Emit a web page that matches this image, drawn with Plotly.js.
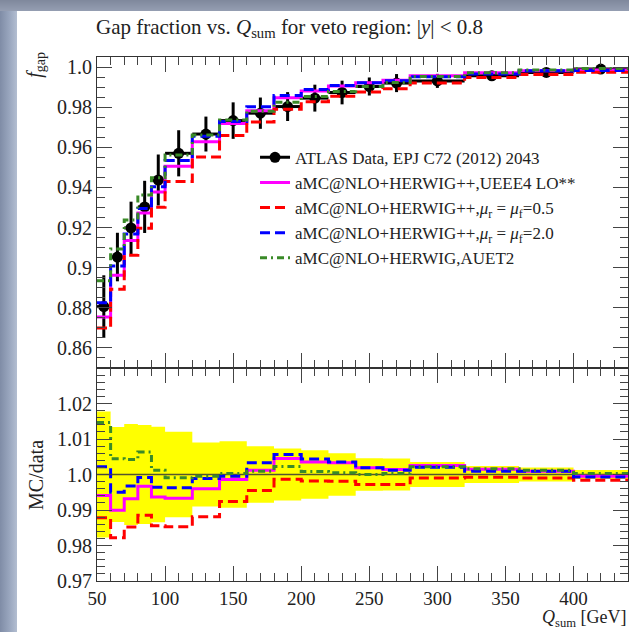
<!DOCTYPE html>
<html><head><meta charset="utf-8">
<script src="https://cdn.plot.ly/plotly-3.0.1.min.js"></script>
<style>
html,body{margin:0;padding:0;width:629px;height:632px;overflow:hidden;}
body{background:linear-gradient(to right,#7f8ca6 0px,#98a5bd 9px,#b3bed1 17px);}
#topstrip{position:absolute;left:0;top:0;width:629px;height:11px;background:linear-gradient(to bottom,#7f889c,#959eb2);}
#plot{position:absolute;left:17px;top:11px;width:612px;height:621px;background:#fff;}
</style></head><body><div id="topstrip"></div><div id="plot"></div>
<script>
// ---- data ----
const binEdges   = [50,60,70,80,90,100,120,140,160,180,200,220,240,260,280,320,360,400,440];
const binCenters = [55,65,75,85,95,110,130,150,170,190,210,230,250,270,300,340,380,420];
const dataValues = [0.8806,0.9053,0.9198,0.9303,0.9437,0.9570,0.9666,0.9733,0.9770,0.9803,0.9845,0.9873,0.9903,0.9920,0.9931,0.9956,0.9973,0.9990];
const dataErrors = [0.0156,0.0121,0.0131,0.0130,0.0127,0.0115,0.0087,0.0091,0.0078,0.0072,0.0067,0.0059,0.0045,0.0045,0.0035,0.0024,0.0020,0.0013];
const mcUEEE4 = [0.8754,0.8962,0.9135,0.9272,0.9377,0.9506,0.9627,0.9719,0.9782,0.9847,0.9880,0.9906,0.9922,0.9934,0.9956,0.9971,0.9982,0.9985];
const mcMu05  = [0.8699,0.8892,0.9062,0.9196,0.9301,0.9429,0.9551,0.9659,0.9726,0.9790,0.9827,0.9854,0.9875,0.9892,0.9921,0.9948,0.9963,0.9974];
const mcMu20  = [0.8825,0.9008,0.9168,0.9295,0.9403,0.9534,0.9655,0.9728,0.9802,0.9858,0.9888,0.9908,0.9922,0.9932,0.9951,0.9965,0.9982,0.9983];
const mcAUET2 = [0.8935,0.9093,0.9237,0.9362,0.9448,0.9561,0.9661,0.9736,0.9779,0.9825,0.9853,0.9878,0.9903,0.9923,0.9953,0.9972,0.9985,0.9993];

const seriesNames = [
  'ATLAS Data, EPJ C72 (2012) 2043',
  'aMC@NLO+HERWIG++,UEEE4 LO**',
  'aMC@NLO+HERWIG++,<i>μ</i><sub>r</sub> = <i>μ</i><sub>f</sub>=0.5',
  'aMC@NLO+HERWIG++,<i>μ</i><sub>r</sub> = <i>μ</i><sub>f</sub>=2.0',
  'aMC@NLO+HERWIG,AUET2'
];
const xTickVals = [50,100,150,200,250,300,350,400];
const xTickText = ['50','100','150','200','250','300','350','400'];
const yTickVals = [0.86,0.88,0.90,0.92,0.94,0.96,0.98,1.00];
const yTickText = ['0.86','0.88','0.9','0.92','0.94','0.96','0.98','1.0'];
const rTickVals = [0.97,0.98,0.99,1.00,1.01,1.02];
const rTickText = ['0.97','0.98','0.99','1.0','1.01','1.02'];

// ---- build traces ----
const FONT = 'Liberation Serif, Times New Roman, serif';
function stepY(vals){ return vals.concat([vals[vals.length-1]]); }
const halfWidths = binCenters.map((c,i)=> (binEdges[i+1]-binEdges[i])/2);

const mcList = [
  {v:mcUEEE4, line:{color:'#ff00ff', width:3}},
  {v:mcMu05,  line:{color:'#ff0000', width:3, dash:'10px,5px'}},
  {v:mcMu20,  line:{color:'#0000ff', width:3, dash:'10px,5px'}},
  {v:mcAUET2, line:{color:'#3a8a28', width:3, dash:'7px,4px,2px,4px'}}
];

const traces = [];
traces.push({x:[null], y:[null], type:'scatter', mode:'lines+markers', name:seriesNames[0],
  line:{color:'#000', width:3}, marker:{color:'#000', size:11}, xaxis:'x', yaxis:'y'});
traces.push({x:binCenters, y:dataValues, type:'scatter', mode:'markers', showlegend:false,
  marker:{color:'#000', size:11},
  error_y:{type:'data', array:dataErrors, color:'#000', thickness:3, width:0},
  error_x:{type:'data', array:halfWidths, color:'#000', thickness:3, width:0},
  xaxis:'x', yaxis:'y'});
mcList.forEach((m,i)=>{
  traces.push({x:binEdges, y:stepY(m.v), type:'scatter', mode:'lines', line:Object.assign({shape:'hv'}, m.line),
    name:seriesNames[i+1], xaxis:'x', yaxis:'y'});
});
const bandLo = dataValues.map((d,i)=> 1 - dataErrors[i]/d);
const bandHi = dataValues.map((d,i)=> 1 + dataErrors[i]/d);
traces.push({x:binEdges, y:stepY(bandLo), type:'scatter', mode:'lines', line:{shape:'hv', width:0, color:'#ffff00'},
  showlegend:false, xaxis:'x2', yaxis:'y2', hoverinfo:'skip'});
traces.push({x:binEdges, y:stepY(bandHi), type:'scatter', mode:'lines', line:{shape:'hv', width:0, color:'#ffff00'},
  fill:'tonexty', fillcolor:'#ffff00', showlegend:false, xaxis:'x2', yaxis:'y2', hoverinfo:'skip'});
traces.push({x:binEdges, y:stepY(dataValues.map(d=>d/d)), type:'scatter', mode:'lines',
  line:{shape:'hv', width:1.5, color:'#55552f'}, showlegend:false, xaxis:'x2', yaxis:'y2'});
mcList.forEach((m)=>{
  traces.push({x:binEdges, y:stepY(m.v.map((v,i)=> v/dataValues[i])), type:'scatter', mode:'lines',
    line:Object.assign({shape:'hv'}, m.line), showlegend:false, xaxis:'x2', yaxis:'y2'});
});

const split = 213/524;
const axisCommon = {ticks:'inside', ticklen:15, tickwidth:1, tickcolor:'#444', showline:true, linecolor:'#333',
  linewidth:1, mirror:'ticks', showgrid:false, zeroline:false,
  tickfont:{family:FONT, size:20, color:'#222'}};

const layout = {
  width:612, height:621,
  margin:{l:80, r:1, t:46, b:51},
  paper_bgcolor:'#ffffff', plot_bgcolor:'#ffffff',
  font:{family:FONT, size:18, color:'#222'},
  showlegend:true,
  legend:{x:0.2976, y:0.842, xanchor:'left', yanchor:'top', bgcolor:'rgba(0,0,0,0)', traceorder:'normal',
    font:{family:FONT, size:17, color:'#222'}, tracegroupgap:0},
  xaxis:Object.assign({}, axisCommon, {anchor:'y', range:[50,440], showticklabels:false,
    tickmode:'array', tickvals:xTickVals,
    minor:{ticks:'inside', ticklen:8, tick0:50, dtick:10, tickcolor:'#444', tickwidth:1}}),
  yaxis:Object.assign({}, axisCommon, {anchor:'x', domain:[split,1], range:[0.85,1.005],
    tickmode:'array', tickvals:yTickVals, ticktext:yTickText,
    minor:{ticks:'inside', ticklen:8, tick0:0.85, dtick:0.005, tickcolor:'#444', tickwidth:1}}),
  xaxis2:Object.assign({}, axisCommon, {anchor:'y2', range:[50,440],
    tickmode:'array', tickvals:xTickVals, ticktext:xTickText, ticklabelstandoff:0,
    tickfont:{family:FONT, size:19, color:'#222'},
    minor:{ticks:'inside', ticklen:8, tick0:50, dtick:10, tickcolor:'#444', tickwidth:1}}),
  yaxis2:Object.assign({}, axisCommon, {anchor:'x2', domain:[0,split], range:[0.97,1.03],
    tickmode:'array', tickvals:rTickVals, ticktext:rTickText,
    minor:{ticks:'inside', ticklen:8, tick0:0.97, dtick:0.002, tickcolor:'#444', tickwidth:1}}),
  annotations:[
    {text:'Gap fraction vs. <i>Q</i><sub>sum</sub> for veto region: |<i>y</i>| &lt; 0.8', xref:'paper', yref:'paper',
      x:-0.005, y:1, xanchor:'left', yanchor:'bottom', yshift:14, showarrow:false, font:{family:FONT, size:21, color:'#222'}},
    {text:'<i>f</i><sub>gap</sub>', textangle:-90, xref:'paper', yref:'paper', x:-0.1149, y:0.985,
      xanchor:'center', yanchor:'middle', showarrow:false, font:{family:FONT, size:20, color:'#222'}},
    {text:'MC/data', textangle:-90, xref:'paper', yref:'paper', x:-0.1149, y:0.2023,
      xanchor:'center', yanchor:'middle', showarrow:false, font:{family:FONT, size:20, color:'#222'}},
    {text:'<i>Q</i><sub>sum</sub> [GeV]', xref:'paper', yref:'paper', x:1, y:0, yshift:-51,
      xanchor:'right', yanchor:'bottom', showarrow:false, font:{family:FONT, size:18, color:'#222'}}
  ]
};
Plotly.newPlot('plot', traces, layout, {displayModeBar:false, staticPlot:true});
</script></body></html>
